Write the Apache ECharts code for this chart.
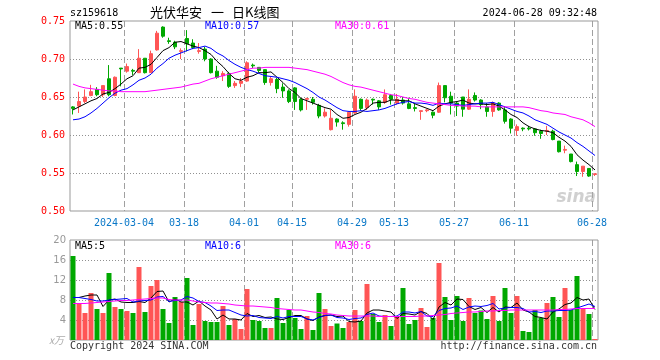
<!DOCTYPE html>
<html><head><meta charset="utf-8">
<script src="https://cdn.jsdelivr.net/npm/echarts@6/dist/echarts.min.js"></script>
<style>html,body{margin:0;padding:0;background:#fff}#c{width:660px;height:360px}</style>
</head><body><div id="c"></div>
<script>
const dates = ['02-20','02-21','02-22','02-23','02-26','02-27','02-28','02-29','03-01',
'03-04','03-05','03-06','03-07','03-08','03-11','03-12','03-13','03-14','03-15',
'03-18','03-19','03-20','03-21','03-22','03-25','03-26','03-27','03-28','03-29',
'04-01','04-02','04-03','04-08','04-09','04-10','04-11','04-12',
'04-15','04-16','04-17','04-18','04-19','04-22','04-23','04-24','04-25','04-26',
'04-29','04-30','05-06','05-07','05-08','05-09','05-10',
'05-13','05-14','05-15','05-16','05-17','05-20','05-21','05-22','05-23','05-24',
'05-27','05-28','05-29','05-30','05-31','06-03','06-04','06-05','06-06','06-07',
'06-11','06-12','06-13','06-14','06-17','06-18','06-19','06-20','06-21',
'06-24','06-25','06-26','06-27','06-28'];
const opens = [0.637,0.638,0.644,0.652,0.660,0.653,0.674,0.652,0.688,0.684,0.685,0.682,0.701,0.682,0.712,0.742,0.724,0.722,0.710,0.727,0.721,0.710,0.713,0.700,0.684,0.678,0.681,0.665,0.668,0.671,0.692,0.689,0.686,0.669,0.673,0.663,0.658,0.662,0.647,0.647,0.647,0.639,0.625,0.607,0.621,0.616,0.614,0.629,0.647,0.636,0.647,0.645,0.643,0.652,0.642,0.646,0.641,0.636,0.631,0.632,0.630,0.630,0.665,0.651,0.642,0.650,0.634,0.652,0.646,0.637,0.631,0.642,0.633,0.621,0.606,0.609,0.609,0.608,0.605,0.605,0.605,0.592,0.580,0.575,0.561,0.552,0.556,0.548];
const closes = [0.635,0.644,0.650,0.657,0.653,0.665,0.653,0.676,0.687,0.690,0.684,0.701,0.682,0.707,0.734,0.730,0.723,0.716,0.711,0.720,0.715,0.711,0.700,0.682,0.676,0.681,0.664,0.668,0.671,0.695,0.691,0.685,0.669,0.674,0.661,0.658,0.644,0.644,0.633,0.648,0.643,0.625,0.630,0.622,0.617,0.615,0.630,0.651,0.635,0.646,0.646,0.637,0.653,0.647,0.647,0.642,0.635,0.635,0.632,0.633,0.626,0.665,0.649,0.642,0.638,0.634,0.647,0.646,0.640,0.631,0.642,0.633,0.618,0.609,0.611,0.608,0.608,0.603,0.602,0.606,0.594,0.578,0.581,0.565,0.552,0.559,0.546,0.549];
const highs = [0.638,0.657,0.660,0.666,0.663,0.665,0.692,0.677,0.688,0.694,0.687,0.713,0.701,0.711,0.737,0.743,0.728,0.724,0.714,0.738,0.726,0.721,0.716,0.701,0.691,0.684,0.683,0.671,0.675,0.697,0.694,0.689,0.686,0.677,0.675,0.668,0.660,0.663,0.649,0.649,0.650,0.641,0.635,0.633,0.622,0.618,0.631,0.660,0.648,0.648,0.648,0.646,0.660,0.654,0.654,0.650,0.649,0.641,0.632,0.634,0.631,0.669,0.665,0.657,0.644,0.650,0.660,0.656,0.647,0.642,0.644,0.643,0.638,0.622,0.614,0.610,0.612,0.609,0.607,0.612,0.607,0.592,0.586,0.575,0.565,0.559,0.556,0.549];
const lows = [0.627,0.629,0.642,0.651,0.651,0.650,0.651,0.651,0.664,0.682,0.679,0.682,0.681,0.682,0.711,0.728,0.720,0.713,0.700,0.710,0.713,0.707,0.697,0.681,0.674,0.671,0.662,0.662,0.663,0.670,0.688,0.682,0.666,0.665,0.655,0.649,0.642,0.633,0.631,0.633,0.640,0.622,0.623,0.606,0.611,0.607,0.611,0.628,0.632,0.633,0.640,0.633,0.641,0.640,0.640,0.640,0.634,0.631,0.620,0.630,0.622,0.629,0.643,0.627,0.625,0.624,0.633,0.644,0.634,0.624,0.624,0.632,0.615,0.602,0.599,0.605,0.606,0.599,0.595,0.600,0.593,0.577,0.576,0.564,0.546,0.545,0.545,0.546];
const ma5 = [0.633,0.637,0.641,0.645,0.648,0.654,0.656,0.661,0.667,0.674,0.678,0.688,0.689,0.693,0.702,0.711,0.715,0.722,0.723,0.720,0.717,0.715,0.711,0.706,0.697,0.690,0.681,0.674,0.672,0.676,0.678,0.682,0.682,0.683,0.676,0.669,0.661,0.656,0.648,0.645,0.642,0.639,0.636,0.634,0.627,0.622,0.623,0.627,0.630,0.635,0.642,0.643,0.643,0.646,0.646,0.645,0.645,0.641,0.638,0.635,0.632,0.638,0.641,0.643,0.644,0.646,0.642,0.641,0.641,0.640,0.641,0.638,0.633,0.627,0.623,0.616,0.611,0.608,0.606,0.605,0.603,0.597,0.592,0.585,0.574,0.567,0.561,0.554];
const ma10 = [0.620,0.621,0.624,0.629,0.635,0.642,0.649,0.655,0.659,0.661,0.666,0.672,0.675,0.680,0.688,0.694,0.701,0.705,0.708,0.711,0.714,0.715,0.717,0.714,0.708,0.704,0.698,0.693,0.689,0.686,0.684,0.681,0.678,0.677,0.676,0.674,0.672,0.669,0.665,0.661,0.656,0.650,0.646,0.641,0.636,0.632,0.631,0.631,0.632,0.631,0.632,0.633,0.635,0.638,0.641,0.643,0.644,0.642,0.642,0.641,0.639,0.642,0.641,0.641,0.640,0.639,0.640,0.641,0.642,0.642,0.643,0.640,0.637,0.634,0.631,0.629,0.625,0.620,0.617,0.614,0.609,0.604,0.600,0.596,0.590,0.585,0.579,0.573];
const ma30 = [0.667,0.664,0.662,0.661,0.660,0.659,0.658,0.658,0.657,0.657,0.657,0.657,0.657,0.658,0.659,0.660,0.661,0.662,0.663,0.665,0.667,0.668,0.671,0.674,0.676,0.678,0.680,0.682,0.684,0.686,0.688,0.688,0.689,0.689,0.689,0.689,0.689,0.688,0.687,0.686,0.684,0.682,0.680,0.677,0.673,0.669,0.666,0.664,0.663,0.661,0.659,0.657,0.655,0.653,0.652,0.650,0.648,0.647,0.645,0.643,0.642,0.641,0.640,0.639,0.639,0.638,0.638,0.638,0.637,0.637,0.637,0.637,0.637,0.637,0.637,0.637,0.636,0.634,0.632,0.631,0.629,0.628,0.627,0.624,0.622,0.620,0.616,0.611];
const volumes = [16.8,7.3,5.4,9.4,6.2,5.4,13.4,6.6,6.2,5.8,5.4,14.6,5.6,10.8,12.0,6.2,3.4,8.6,7.6,12.4,3.0,7.2,3.8,3.6,3.6,6.8,3.0,4.2,2.2,10.2,4.0,3.8,2.4,2.4,8.4,3.4,6.0,4.4,2.2,4.8,2.0,9.4,6.2,2.8,3.3,2.4,3.6,6.0,3.8,11.2,5.2,3.6,5.0,2.8,4.7,10.4,3.2,4.0,6.4,2.6,4.4,15.4,8.6,4.0,8.8,3.8,8.4,5.4,5.9,4.2,8.8,3.8,10.4,5.4,8.8,1.8,1.6,6.0,4.4,7.4,8.6,4.6,10.4,6.0,12.8,6.4,5.2,0.2];
const volMa5 = [8.5,8.5,8.8,9.0,9.0,6.7,8.0,8.2,7.6,7.5,7.5,7.7,7.5,8.4,9.7,9.8,7.6,8.2,7.6,7.6,7.0,7.8,6.8,6.0,4.2,5.0,4.2,4.2,4.0,5.3,4.7,4.9,4.5,4.6,4.2,4.1,4.5,4.9,4.9,4.2,3.9,4.6,4.9,5.0,4.7,4.8,3.7,3.6,3.8,5.4,6.0,6.0,5.8,5.6,4.3,5.3,5.2,5.0,5.7,5.3,4.1,6.6,7.5,7.0,8.2,8.1,6.7,6.1,6.5,5.5,6.5,5.6,6.6,6.5,7.4,6.0,5.6,4.7,4.5,4.2,5.6,6.2,7.1,7.4,8.5,8.0,8.2,6.1];
const volMa10 = [8.5,8.5,8.3,8.1,7.8,7.8,8.0,8.1,8.2,8.3,7.6,7.8,7.9,8.0,8.6,8.7,7.7,7.9,8.0,8.7,8.4,7.7,7.5,6.8,5.9,6.0,6.0,5.5,5.0,4.8,4.9,4.5,4.4,4.3,4.7,4.4,4.7,4.7,4.7,4.2,4.0,4.5,4.9,5.0,4.5,4.4,4.1,4.3,4.4,5.1,5.4,4.8,4.7,4.7,4.8,5.6,5.6,5.4,5.7,4.8,4.7,5.9,6.3,6.4,6.8,6.1,6.6,6.8,6.7,6.9,7.3,6.2,6.4,6.5,6.5,6.3,5.6,5.7,5.5,5.8,5.8,5.9,5.9,6.0,6.4,6.8,7.2,6.7];
const volMa30 = [7.3,7.3,7.3,7.4,7.5,7.6,7.7,7.8,7.9,7.9,8.0,8.1,8.2,8.3,8.4,8.4,8.1,8.0,8.0,8.0,7.8,7.6,7.5,7.4,7.4,7.3,7.2,7.0,6.9,6.8,6.8,6.7,6.6,6.5,6.3,6.2,6.1,6.0,6.0,5.8,5.6,5.5,5.3,5.2,5.0,4.9,4.8,4.8,4.8,4.8,4.8,4.7,4.7,4.7,4.7,4.7,4.7,4.7,4.8,4.8,4.9,5.0,5.1,5.3,5.4,5.5,5.6,5.6,5.7,5.8,5.8,5.9,5.9,6.0,6.0,6.0,6.0,6.0,6.0,6.0,6.0,6.1,6.1,6.2,6.3,6.3,6.3,6.3];
const tickDates = ['03-04','03-18','04-01','04-15','04-29','05-13','05-27','06-11','06-28'];
const tickLabels = ['2024-03-04','03-18','04-01','04-15','04-29','05-13','05-27','06-11','06-28'];
const priceTicks = [0.55,0.60,0.65,0.70];
const volTicks = [4,8,12,16];
const maLabels = ['MA5:0.55','MA10:0.57','MA30:0.61'];
const volMaLabels = ['MA5:5','MA10:6','MA30:6'];

const RED = '#ff5555', GREEN = '#00a800';
const MONO = '"DejaVu Sans Mono", "Liberation Mono", monospace';
const tickIdx = tickDates.map(d => dates.indexOf(d));
const N = dates.length;

const candleData = dates.map((d, i) => [opens[i], closes[i], lows[i], highs[i]]);
const volData = volumes.map((v, i) => ({
  value: v,
  itemStyle: { color: closes[i] >= opens[i] ? RED : GREEN }
}));

const chart = echarts.init(document.getElementById('c'), null, { renderer: 'canvas' });
const gridStyle = { show: true, borderColor: '#999', borderWidth: 1, backgroundColor: 'transparent' };

function lineSeries(data, color, xi, yi) {
  return { type: 'line', data: data, xAxisIndex: xi, yAxisIndex: yi, symbol: 'none', smooth: false,
    lineStyle: { color: color, width: 1 }, itemStyle: { color: color }, silent: true, z: 3 };
}

const texts = [
  { type: 'text', x: 70, y: 13, style: { text: 'sz159618', font: '10px ' + MONO, fill: '#000', textVerticalAlign: 'middle' } },
  { type: 'text', x: 150, y: 12, style: { text: '光伏华安', font: '13px "Noto Sans CJK SC"', fill: '#000', textVerticalAlign: 'middle' } },
  { type: 'text', x: 211, y: 12, style: { text: '一', font: '13px "Noto Sans CJK SC"', fill: '#000', textVerticalAlign: 'middle' } },
  { type: 'text', x: 232, y: 12, style: { text: '日K线图', font: '13px "Noto Sans CJK SC"', fill: '#000', textVerticalAlign: 'middle' } },
  { type: 'text', x: 597, y: 13, style: { text: '2024-06-28 09:32:48', font: '10px ' + MONO, fill: '#000', textAlign: 'right', textVerticalAlign: 'middle' } },
  { type: 'text', x: 75, y: 26, z: 110, style: { text: maLabels[0], font: '10px ' + MONO, fill: '#000', textVerticalAlign: 'middle' } },
  { type: 'text', x: 205, y: 26, z: 110, style: { text: maLabels[1], font: '10px ' + MONO, fill: '#0000ff', textVerticalAlign: 'middle' } },
  { type: 'text', x: 335, y: 26, z: 110, style: { text: maLabels[2], font: '10px ' + MONO, fill: '#ff00ff', textVerticalAlign: 'middle' } },
  { type: 'text', x: 75, y: 246, z: 110, style: { text: volMaLabels[0], font: '10px ' + MONO, fill: '#000', textVerticalAlign: 'middle' } },
  { type: 'text', x: 205, y: 246, z: 110, style: { text: volMaLabels[1], font: '10px ' + MONO, fill: '#0000ff', textVerticalAlign: 'middle' } },
  { type: 'text', x: 335, y: 246, z: 110, style: { text: volMaLabels[2], font: '10px ' + MONO, fill: '#ff00ff', textVerticalAlign: 'middle' } },
  { type: 'text', x: 49, y: 340, style: { text: 'x万', font: 'italic 10px "Noto Sans CJK SC"', fill: '#aaa', textVerticalAlign: 'middle' } },
  { type: 'text', x: 70, y: 346, style: { text: 'Copyright 2024 SINA.COM', font: '10px ' + MONO, fill: '#333', textVerticalAlign: 'middle' } },
  { type: 'text', x: 597, y: 346, style: { text: 'http://finance.sina.com.cn', font: '10px ' + MONO, fill: '#333', textAlign: 'right', textVerticalAlign: 'middle' } },
  { type: 'text', x: 596, y: 198, z: 1, style: { text: 'sina', font: 'italic bold 17px "DejaVu Sans"', fill: 'rgba(170,170,170,0.55)', textAlign: 'right', textVerticalAlign: 'middle' } }
];

chart.setOption({
  animation: false,
  backgroundColor: '#fff',
  grid: [
    Object.assign({ left: 70, width: 528, top: 21, height: 190 }, gridStyle),
    Object.assign({ left: 70, width: 528, top: 240, height: 100 }, gridStyle)
  ],
  xAxis: [
    { type: 'category', gridIndex: 0, data: dates, boundaryGap: true,
      axisLine: { show: false }, axisTick: { show: false },
      axisLabel: { show: true, interval: (idx) => tickIdx.indexOf(idx) >= 0,
        formatter: (v) => tickLabels[tickDates.indexOf(v)],
        color: '#0a78c8', fontFamily: MONO, fontSize: 10, margin: 7, padding: [0, 6, 0, 0] },
      splitLine: { show: false } },
    { type: 'category', gridIndex: 1, data: dates, boundaryGap: true,
      axisLine: { show: false }, axisTick: { show: false }, axisLabel: { show: false },
      splitLine: { show: false } },
    { type: 'value', gridIndex: 0, min: 0, max: N, show: false },
    { type: 'value', gridIndex: 1, min: 0, max: N, show: false }
  ],
  yAxis: [
    { type: 'value', gridIndex: 0, min: 0.50, max: 0.75, interval: 0.05,
      axisLine: { show: false }, axisTick: { show: false },
      axisLabel: { color: '#ff0000', fontFamily: MONO, fontSize: 10, margin: 5,
        formatter: (v) => v.toFixed(2) },
      splitLine: { show: false } },
    { type: 'value', gridIndex: 1, min: 0, max: 20, interval: 4,
      axisLine: { show: false }, axisTick: { show: false },
      axisLabel: { color: '#999', fontFamily: '"DejaVu Sans", sans-serif', fontSize: 10, margin: 4,
        formatter: (v) => v === 0 ? '' : String(v) },
      splitLine: { show: false } }
  ],
  series: [
    { type: 'candlestick', xAxisIndex: 0, yAxisIndex: 0, data: candleData, barWidth: 4,
      itemStyle: { color: RED, color0: GREEN, borderColor: RED, borderColor0: GREEN, borderWidth: 1 }, z: 2 },
    lineSeries(ma5, '#000000', 0, 0),
    lineSeries(ma10, '#0000ff', 0, 0),
    lineSeries(ma30, '#ff00ff', 0, 0),
    { type: 'bar', xAxisIndex: 1, yAxisIndex: 1, data: volData, barWidth: 5, z: 2 },
    lineSeries(volMa5, '#000000', 1, 1),
    lineSeries(volMa10, '#0000ff', 1, 1),
    lineSeries(volMa30, '#ff00ff', 1, 1)
  ],
  graphic: texts
});

// grid lines placed through the axes' own scales (band edges on a 0..N value axis), behind the marks
const gridLines = [];
[[2, 0, priceTicks], [3, 1, volTicks]].forEach(([xi, yi, ticks]) => {
  const yTop = chart.convertToPixel({ yAxisIndex: yi }, yi === 0 ? 0.75 : 20);
  const yBot = chart.convertToPixel({ yAxisIndex: yi }, yi === 0 ? 0.50 : 0);
  const xL = chart.convertToPixel({ xAxisIndex: xi }, 0);
  const xR = chart.convertToPixel({ xAxisIndex: xi }, N);
  tickIdx.forEach(i => {
    const x = Math.round(chart.convertToPixel({ xAxisIndex: xi }, i)) + 0.5;
    gridLines.push({ type: 'line', z: -1, silent: true,
      shape: { x1: x, y1: yTop, x2: x, y2: yBot },
      style: { stroke: '#a0a0a0', lineWidth: 1, lineDash: [6, 3] } });
  });
  ticks.forEach(t => {
    const y = Math.round(chart.convertToPixel({ yAxisIndex: yi }, t)) + 0.5;
    gridLines.push({ type: 'line', z: -1, silent: true,
      shape: { x1: xL, y1: y, x2: xR, y2: y },
      style: { stroke: '#909090', lineWidth: 1, lineDash: [1, 2] } });
  });
});
chart.setOption({ graphic: texts.concat(gridLines) });
</script>
</body></html>
